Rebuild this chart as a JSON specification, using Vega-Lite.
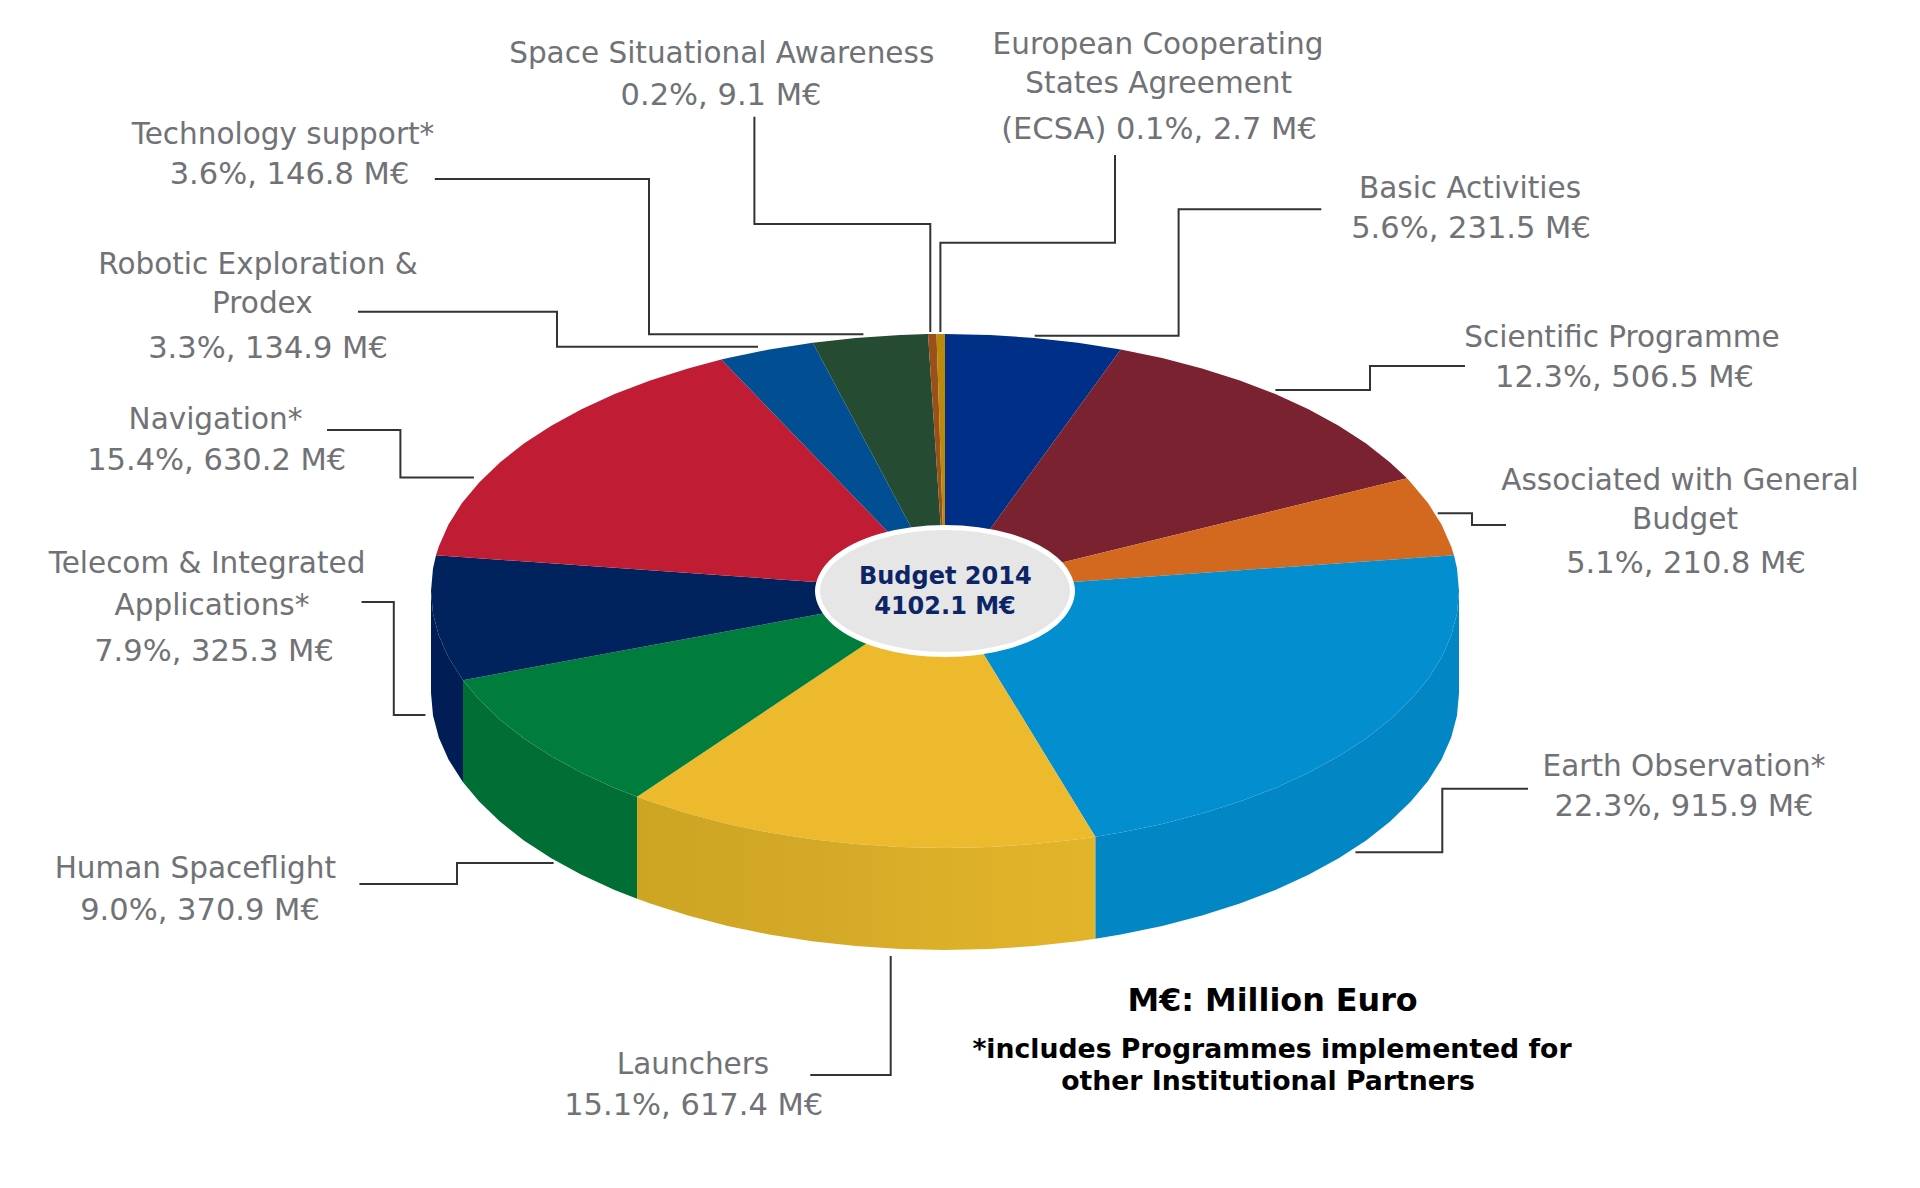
{
  "$schema": "https://vega.github.io/schema/vega-lite/v6.json",
  "description": "ESA Budget 2014 by domain",
  "background": "white",
  "padding": 0,
  "autosize": {"type": "fit", "contains": "padding"},
  "width": 1920,
  "height": 1188,
  "datasets": {
    "pie": [
      {"piece":"Earth Observation wall","i":1,"x":1459,"y":591},{"piece":"Earth Observation wall","i":2,"x":1457,"y":613.4},{"piece":"Earth Observation wall","i":3,"x":1451.2,"y":635.6},{"piece":"Earth Observation wall","i":4,"x":1441.5,"y":657.5},{"piece":"Earth Observation wall","i":5,"x":1428,"y":678.9},{"piece":"Earth Observation wall","i":6,"x":1410.8,"y":699.6},{"piece":"Earth Observation wall","i":7,"x":1390.1,"y":719.5},{"piece":"Earth Observation wall","i":8,"x":1366.1,"y":738.4},{"piece":"Earth Observation wall","i":9,"x":1338.7,"y":756.2},{"piece":"Earth Observation wall","i":10,"x":1308.5,"y":772.7},{"piece":"Earth Observation wall","i":11,"x":1275.4,"y":787.9},{"piece":"Earth Observation wall","i":12,"x":1239.8,"y":801.5},{"piece":"Earth Observation wall","i":13,"x":1202,"y":813.6},{"piece":"Earth Observation wall","i":14,"x":1162.2,"y":823.9},{"piece":"Earth Observation wall","i":15,"x":1120.8,"y":832.5},{"piece":"Earth Observation wall","i":16,"x":1095.3,"y":836.8},{"piece":"Earth Observation wall","i":17,"x":1095.3,"y":938.8},{"piece":"Earth Observation wall","i":18,"x":1120.8,"y":934.5},{"piece":"Earth Observation wall","i":19,"x":1162.2,"y":925.9},{"piece":"Earth Observation wall","i":20,"x":1202,"y":915.6},{"piece":"Earth Observation wall","i":21,"x":1239.8,"y":903.5},{"piece":"Earth Observation wall","i":22,"x":1275.4,"y":889.9},{"piece":"Earth Observation wall","i":23,"x":1308.5,"y":874.7},{"piece":"Earth Observation wall","i":24,"x":1338.7,"y":858.2},{"piece":"Earth Observation wall","i":25,"x":1366.1,"y":840.4},{"piece":"Earth Observation wall","i":26,"x":1390.1,"y":821.5},{"piece":"Earth Observation wall","i":27,"x":1410.8,"y":801.6},{"piece":"Earth Observation wall","i":28,"x":1428,"y":780.9},{"piece":"Earth Observation wall","i":29,"x":1441.5,"y":759.5},{"piece":"Earth Observation wall","i":30,"x":1451.2,"y":737.6},{"piece":"Earth Observation wall","i":31,"x":1457,"y":715.4},{"piece":"Earth Observation wall","i":32,"x":1459,"y":693},
      {"piece":"Launchers wall","i":1,"x":1095.3,"y":836.8},{"piece":"Launchers wall","i":2,"x":1078,"y":839.2},{"piece":"Launchers wall","i":3,"x":1034.3,"y":844.1},{"piece":"Launchers wall","i":4,"x":989.8,"y":847},{"piece":"Launchers wall","i":5,"x":945,"y":848},{"piece":"Launchers wall","i":6,"x":900.2,"y":847},{"piece":"Launchers wall","i":7,"x":855.7,"y":844.1},{"piece":"Launchers wall","i":8,"x":812,"y":839.2},{"piece":"Launchers wall","i":9,"x":769.2,"y":832.5},{"piece":"Launchers wall","i":10,"x":727.8,"y":823.9},{"piece":"Launchers wall","i":11,"x":688,"y":813.6},{"piece":"Launchers wall","i":12,"x":650.2,"y":801.5},{"piece":"Launchers wall","i":13,"x":637.1,"y":796.8},{"piece":"Launchers wall","i":14,"x":637.1,"y":898.8},{"piece":"Launchers wall","i":15,"x":650.2,"y":903.5},{"piece":"Launchers wall","i":16,"x":688,"y":915.6},{"piece":"Launchers wall","i":17,"x":727.8,"y":925.9},{"piece":"Launchers wall","i":18,"x":769.2,"y":934.5},{"piece":"Launchers wall","i":19,"x":812,"y":941.2},{"piece":"Launchers wall","i":20,"x":855.7,"y":946.1},{"piece":"Launchers wall","i":21,"x":900.2,"y":949},{"piece":"Launchers wall","i":22,"x":945,"y":950},{"piece":"Launchers wall","i":23,"x":989.8,"y":949},{"piece":"Launchers wall","i":24,"x":1034.3,"y":946.1},{"piece":"Launchers wall","i":25,"x":1078,"y":941.2},{"piece":"Launchers wall","i":26,"x":1095.3,"y":938.8},
      {"piece":"Human Spaceflight wall","i":1,"x":637.1,"y":796.8},{"piece":"Human Spaceflight wall","i":2,"x":614.6,"y":787.9},{"piece":"Human Spaceflight wall","i":3,"x":581.5,"y":772.7},{"piece":"Human Spaceflight wall","i":4,"x":551.3,"y":756.2},{"piece":"Human Spaceflight wall","i":5,"x":523.9,"y":738.4},{"piece":"Human Spaceflight wall","i":6,"x":499.9,"y":719.5},{"piece":"Human Spaceflight wall","i":7,"x":479.2,"y":699.6},{"piece":"Human Spaceflight wall","i":8,"x":463,"y":680.2},{"piece":"Human Spaceflight wall","i":9,"x":463,"y":782.2},{"piece":"Human Spaceflight wall","i":10,"x":479.2,"y":801.6},{"piece":"Human Spaceflight wall","i":11,"x":499.9,"y":821.5},{"piece":"Human Spaceflight wall","i":12,"x":523.9,"y":840.4},{"piece":"Human Spaceflight wall","i":13,"x":551.3,"y":858.2},{"piece":"Human Spaceflight wall","i":14,"x":581.5,"y":874.7},{"piece":"Human Spaceflight wall","i":15,"x":614.6,"y":889.9},{"piece":"Human Spaceflight wall","i":16,"x":637.1,"y":898.8},
      {"piece":"Telecom wall","i":1,"x":463,"y":680.2},{"piece":"Telecom wall","i":2,"x":448.5,"y":657.5},{"piece":"Telecom wall","i":3,"x":438.8,"y":635.6},{"piece":"Telecom wall","i":4,"x":433,"y":613.4},{"piece":"Telecom wall","i":5,"x":431,"y":591},{"piece":"Telecom wall","i":6,"x":431,"y":693},{"piece":"Telecom wall","i":7,"x":433,"y":715.4},{"piece":"Telecom wall","i":8,"x":438.8,"y":737.6},{"piece":"Telecom wall","i":9,"x":448.5,"y":759.5},{"piece":"Telecom wall","i":10,"x":463,"y":782.2},
      {"piece":"Basic Activities","i":0,"x":945,"y":591},{"piece":"Basic Activities","i":1,"x":945,"y":334},{"piece":"Basic Activities","i":2,"x":989.8,"y":335},{"piece":"Basic Activities","i":3,"x":1034.3,"y":337.9},{"piece":"Basic Activities","i":4,"x":1078,"y":342.8},{"piece":"Basic Activities","i":5,"x":1120.8,"y":349.5},
      {"piece":"Scientific Programme","i":0,"x":945,"y":591},{"piece":"Scientific Programme","i":1,"x":1120.8,"y":349.5},{"piece":"Scientific Programme","i":2,"x":1162.2,"y":358.1},{"piece":"Scientific Programme","i":3,"x":1202,"y":368.4},{"piece":"Scientific Programme","i":4,"x":1239.8,"y":380.5},{"piece":"Scientific Programme","i":5,"x":1275.4,"y":394.1},{"piece":"Scientific Programme","i":6,"x":1308.5,"y":409.3},{"piece":"Scientific Programme","i":7,"x":1338.7,"y":425.8},{"piece":"Scientific Programme","i":8,"x":1366.1,"y":443.6},{"piece":"Scientific Programme","i":9,"x":1390.1,"y":462.5},{"piece":"Scientific Programme","i":10,"x":1407,"y":478.3},
      {"piece":"Associated with General Budget","i":0,"x":945,"y":591},{"piece":"Associated with General Budget","i":1,"x":1407,"y":478.3},{"piece":"Associated with General Budget","i":2,"x":1410.8,"y":482.4},{"piece":"Associated with General Budget","i":3,"x":1428,"y":503.1},{"piece":"Associated with General Budget","i":4,"x":1441.5,"y":524.5},{"piece":"Associated with General Budget","i":5,"x":1451.2,"y":546.4},{"piece":"Associated with General Budget","i":6,"x":1454,"y":555.2},
      {"piece":"Earth Observation","i":0,"x":945,"y":591},{"piece":"Earth Observation","i":1,"x":1454,"y":555.2},{"piece":"Earth Observation","i":2,"x":1457,"y":568.6},{"piece":"Earth Observation","i":3,"x":1459,"y":591},{"piece":"Earth Observation","i":4,"x":1457,"y":613.4},{"piece":"Earth Observation","i":5,"x":1451.2,"y":635.6},{"piece":"Earth Observation","i":6,"x":1441.5,"y":657.5},{"piece":"Earth Observation","i":7,"x":1428,"y":678.9},{"piece":"Earth Observation","i":8,"x":1410.8,"y":699.6},{"piece":"Earth Observation","i":9,"x":1390.1,"y":719.5},{"piece":"Earth Observation","i":10,"x":1366.1,"y":738.4},{"piece":"Earth Observation","i":11,"x":1338.7,"y":756.2},{"piece":"Earth Observation","i":12,"x":1308.5,"y":772.7},{"piece":"Earth Observation","i":13,"x":1275.4,"y":787.9},{"piece":"Earth Observation","i":14,"x":1239.8,"y":801.5},{"piece":"Earth Observation","i":15,"x":1202,"y":813.6},{"piece":"Earth Observation","i":16,"x":1162.2,"y":823.9},{"piece":"Earth Observation","i":17,"x":1120.8,"y":832.5},{"piece":"Earth Observation","i":18,"x":1095.3,"y":836.8},
      {"piece":"Launchers","i":0,"x":945,"y":591},{"piece":"Launchers","i":1,"x":1095.3,"y":836.8},{"piece":"Launchers","i":2,"x":1078,"y":839.2},{"piece":"Launchers","i":3,"x":1034.3,"y":844.1},{"piece":"Launchers","i":4,"x":989.8,"y":847},{"piece":"Launchers","i":5,"x":945,"y":848},{"piece":"Launchers","i":6,"x":900.2,"y":847},{"piece":"Launchers","i":7,"x":855.7,"y":844.1},{"piece":"Launchers","i":8,"x":812,"y":839.2},{"piece":"Launchers","i":9,"x":769.2,"y":832.5},{"piece":"Launchers","i":10,"x":727.8,"y":823.9},{"piece":"Launchers","i":11,"x":688,"y":813.6},{"piece":"Launchers","i":12,"x":650.2,"y":801.5},{"piece":"Launchers","i":13,"x":637.1,"y":796.8},
      {"piece":"Human Spaceflight","i":0,"x":945,"y":591},{"piece":"Human Spaceflight","i":1,"x":637.1,"y":796.8},{"piece":"Human Spaceflight","i":2,"x":614.6,"y":787.9},{"piece":"Human Spaceflight","i":3,"x":581.5,"y":772.7},{"piece":"Human Spaceflight","i":4,"x":551.3,"y":756.2},{"piece":"Human Spaceflight","i":5,"x":523.9,"y":738.4},{"piece":"Human Spaceflight","i":6,"x":499.9,"y":719.5},{"piece":"Human Spaceflight","i":7,"x":479.2,"y":699.6},{"piece":"Human Spaceflight","i":8,"x":463,"y":680.2},
      {"piece":"Telecom & Integrated Applications","i":0,"x":945,"y":591},{"piece":"Telecom & Integrated Applications","i":1,"x":463,"y":680.2},{"piece":"Telecom & Integrated Applications","i":2,"x":448.5,"y":657.5},{"piece":"Telecom & Integrated Applications","i":3,"x":438.8,"y":635.6},{"piece":"Telecom & Integrated Applications","i":4,"x":433,"y":613.4},{"piece":"Telecom & Integrated Applications","i":5,"x":431,"y":591},{"piece":"Telecom & Integrated Applications","i":6,"x":433,"y":568.6},{"piece":"Telecom & Integrated Applications","i":7,"x":436,"y":555.2},
      {"piece":"Navigation","i":0,"x":945,"y":591},{"piece":"Navigation","i":1,"x":436,"y":555.2},{"piece":"Navigation","i":2,"x":438.8,"y":546.4},{"piece":"Navigation","i":3,"x":448.5,"y":524.5},{"piece":"Navigation","i":4,"x":462,"y":503.1},{"piece":"Navigation","i":5,"x":479.2,"y":482.4},{"piece":"Navigation","i":6,"x":499.9,"y":462.5},{"piece":"Navigation","i":7,"x":523.9,"y":443.6},{"piece":"Navigation","i":8,"x":551.3,"y":425.8},{"piece":"Navigation","i":9,"x":581.5,"y":409.3},{"piece":"Navigation","i":10,"x":614.6,"y":394.1},{"piece":"Navigation","i":11,"x":650.2,"y":380.5},{"piece":"Navigation","i":12,"x":688,"y":368.4},{"piece":"Navigation","i":13,"x":721.3,"y":359.6},
      {"piece":"Robotic Exploration & Prodex","i":0,"x":945,"y":591},{"piece":"Robotic Exploration & Prodex","i":1,"x":721.3,"y":359.6},{"piece":"Robotic Exploration & Prodex","i":2,"x":727.8,"y":358.1},{"piece":"Robotic Exploration & Prodex","i":3,"x":769.2,"y":349.5},{"piece":"Robotic Exploration & Prodex","i":4,"x":812.8,"y":342.7},
      {"piece":"Technology support","i":0,"x":945,"y":591},{"piece":"Technology support","i":1,"x":812.8,"y":342.7},{"piece":"Technology support","i":2,"x":855.7,"y":337.9},{"piece":"Technology support","i":3,"x":900.2,"y":335},{"piece":"Technology support","i":4,"x":928,"y":334.1},
      {"piece":"Space Situational Awareness","i":0,"x":945,"y":591},{"piece":"Space Situational Awareness","i":1,"x":928,"y":334.1},{"piece":"Space Situational Awareness","i":2,"x":936.5,"y":334},
      {"piece":"European Cooperating States Agreement","i":0,"x":945,"y":591},{"piece":"European Cooperating States Agreement","i":1,"x":936.5,"y":334},{"piece":"European Cooperating States Agreement","i":2,"x":945,"y":334}
    ],
    "hole": [
      {"i":1,"x":945,"y":527.5},{"i":2,"x":1008.75,"y":536},{"i":3,"x":1055.4,"y":559.25},{"i":4,"x":1072.5,"y":591},{"i":5,"x":1055.4,"y":622.75},{"i":6,"x":1008.75,"y":646},{"i":7,"x":945,"y":654.5},{"i":8,"x":881.25,"y":646},{"i":9,"x":834.6,"y":622.75},{"i":10,"x":817.5,"y":591},{"i":11,"x":834.6,"y":559.25},{"i":12,"x":881.25,"y":536}
    ],
    "leaders": [
      {"id":"Technology support","i":1,"x":434.8,"y":179},{"id":"Technology support","i":2,"x":649,"y":179},{"id":"Technology support","i":3,"x":649,"y":334.3},{"id":"Technology support","i":4,"x":863.4,"y":334.3},
      {"id":"Robotic","i":1,"x":358,"y":311.7},{"id":"Robotic","i":2,"x":557,"y":311.7},{"id":"Robotic","i":3,"x":557,"y":346.7},{"id":"Robotic","i":4,"x":758,"y":346.7},
      {"id":"SSA","i":1,"x":754.4,"y":116.7},{"id":"SSA","i":2,"x":754.4,"y":224},{"id":"SSA","i":3,"x":930.3,"y":224},{"id":"SSA","i":4,"x":930.3,"y":332},
      {"id":"ECSA","i":1,"x":1115,"y":155},{"id":"ECSA","i":2,"x":1115,"y":242.7},{"id":"ECSA","i":3,"x":940.4,"y":242.7},{"id":"ECSA","i":4,"x":940.4,"y":332},
      {"id":"Basic","i":1,"x":1321.3,"y":209.3},{"id":"Basic","i":2,"x":1178.6,"y":209.3},{"id":"Basic","i":3,"x":1178.6,"y":335.7},{"id":"Basic","i":4,"x":1034.7,"y":335.7},
      {"id":"Scientific","i":1,"x":1465,"y":366},{"id":"Scientific","i":2,"x":1370,"y":366},{"id":"Scientific","i":3,"x":1370,"y":390},{"id":"Scientific","i":4,"x":1275.4,"y":390},
      {"id":"Associated","i":1,"x":1437.7,"y":513.3},{"id":"Associated","i":2,"x":1472,"y":513.3},{"id":"Associated","i":3,"x":1472,"y":525},{"id":"Associated","i":4,"x":1506,"y":525},
      {"id":"Earth","i":1,"x":1528,"y":788.7},{"id":"Earth","i":2,"x":1442.3,"y":788.7},{"id":"Earth","i":3,"x":1442.3,"y":852.3},{"id":"Earth","i":4,"x":1355.4,"y":852.3},
      {"id":"Launchers","i":1,"x":890.7,"y":956},{"id":"Launchers","i":2,"x":890.7,"y":1075},{"id":"Launchers","i":3,"x":810.3,"y":1075},
      {"id":"Human","i":1,"x":359.4,"y":884},{"id":"Human","i":2,"x":457,"y":884},{"id":"Human","i":3,"x":457,"y":863},{"id":"Human","i":4,"x":553.6,"y":863},
      {"id":"Telecom","i":1,"x":361.6,"y":602},{"id":"Telecom","i":2,"x":393.8,"y":602},{"id":"Telecom","i":3,"x":393.8,"y":715},{"id":"Telecom","i":4,"x":425.4,"y":715},
      {"id":"Navigation","i":1,"x":327,"y":430},{"id":"Navigation","i":2,"x":400.4,"y":430},{"id":"Navigation","i":3,"x":400.4,"y":477.6},{"id":"Navigation","i":4,"x":473.9,"y":477.6}
    ],
    "names": [
      {"text":"Space Situational Awareness","x":721.7,"y":63.3},
      {"text":"Technology support*","x":283,"y":144.3},
      {"text":"Robotic Exploration &","x":258,"y":274},{"text":"Prodex","x":262.4,"y":313.3},
      {"text":"European Cooperating","x":1158,"y":54},{"text":"States Agreement","x":1158.7,"y":93.3},
      {"text":"Basic Activities","x":1470,"y":198.3},
      {"text":"Scientific Programme","x":1622,"y":346.7},
      {"text":"Associated with General","x":1680,"y":490},{"text":"Budget","x":1685,"y":529},
      {"text":"Earth Observation*","x":1684,"y":776},
      {"text":"Telecom & Integrated","x":207,"y":573},{"text":"Applications*","x":212,"y":615},
      {"text":"Human Spaceflight","x":195.4,"y":877.5},
      {"text":"Launchers","x":693,"y":1074},
      {"text":"Navigation*","x":215.5,"y":428.6}
    ],
    "amounts": [
      {"text":"0.2%, 9.1 M€","x":721,"y":105},
      {"text":"3.6%, 146.8 M€","x":289.5,"y":184.3},
      {"text":"3.3%, 134.9 M€","x":268,"y":358.3},
      {"text":"(ECSA) 0.1%, 2.7 M€","x":1159,"y":139.3},
      {"text":"5.6%, 231.5 M€","x":1471,"y":238.3},
      {"text":"12.3%, 506.5 M€","x":1624.5,"y":386.7},
      {"text":"5.1%, 210.8 M€","x":1686,"y":573},
      {"text":"22.3%, 915.9 M€","x":1684,"y":815.5},
      {"text":"7.9%, 325.3 M€","x":214,"y":661},
      {"text":"9.0%, 370.9 M€","x":200,"y":919.5},
      {"text":"15.1%, 617.4 M€","x":693.7,"y":1114.5},
      {"text":"15.4%, 630.2 M€","x":216.7,"y":470}
    ],
    "center": [
      {"text":"Budget 2014","x":945.3,"y":584},{"text":"4102.1 M€","x":945,"y":614}
    ],
    "notes": [
      {"text":"*includes Programmes implemented for","x":1272,"y":1058},{"text":"other Institutional Partners","x":1268,"y":1090}
    ],
    "heading": [
      {"text":"M€: Million Euro","x":1272.6,"y":1010.7}
    ]
  },
  "encoding": {
    "x": {"field": "x", "type": "quantitative", "axis": null, "scale": {"domain": [0, 1920], "nice": false, "zero": false}},
    "y": {"field": "y", "type": "quantitative", "axis": null, "scale": {"domain": [1188, 0], "nice": false, "zero": false}}
  },
  "layer": [
    {
      "data": {"name": "pie"},
      "transform": [{"filter": "datum.piece !== 'Launchers wall'"}],
      "mark": {"type": "line", "filled": true, "interpolate": "linear-closed"},
      "encoding": {
        "order": {"field": "i", "type": "quantitative"},
        "color": {
          "field": "piece",
          "type": "nominal",
          "legend": null,
          "sort": null,
          "scale": {
            "domain": ["Earth Observation wall", "Human Spaceflight wall", "Telecom wall", "Basic Activities", "Scientific Programme", "Associated with General Budget", "Earth Observation", "Launchers", "Human Spaceflight", "Telecom & Integrated Applications", "Navigation", "Robotic Exploration & Prodex", "Technology support", "Space Situational Awareness", "European Cooperating States Agreement"],
            "range": ["#0287c4", "#016e36", "#001e55", "#002f87", "#7a2230", "#d2691e", "#028ecf", "#edb92d", "#007d3d", "#00235e", "#c01d35", "#024e92", "#254b33", "#99501a", "#bb8a0a"]
          }
        }
      }
    },
    {
      "data": {"name": "pie"},
      "transform": [{"filter": "datum.piece === 'Launchers wall'"}],
      "mark": {
        "type": "line",
        "filled": true,
        "interpolate": "linear-closed",
        "fill": {
          "gradient": "linear", "x1": 1, "y1": 0, "x2": 0, "y2": 0,
          "stops": [
            {"offset": 0, "color": "#e2b42a"},
            {"offset": 0.35, "color": "#dcaf29"},
            {"offset": 0.6, "color": "#d3a927"},
            {"offset": 1, "color": "#cea523"}
          ]
        }
      },
      "encoding": {"order": {"field": "i", "type": "quantitative"}}
    },
    {
      "data": {"name": "hole"},
      "mark": {"type": "line", "filled": true, "interpolate": "cardinal-closed", "fill": "#e6e6e6", "stroke": "white", "strokeWidth": 5},
      "encoding": {"order": {"field": "i", "type": "quantitative"}}
    },
    {
      "data": {"name": "leaders"},
      "mark": {"type": "line", "stroke": "#333333", "strokeWidth": 2},
      "encoding": {
        "detail": {"field": "id", "type": "nominal"},
        "order": {"field": "i", "type": "quantitative"}
      }
    },
    {
      "data": {"name": "names"},
      "mark": {"type": "text", "font": "DejaVu Sans", "fontSize": 29.5, "color": "#707276", "align": "center", "baseline": "alphabetic"},
      "encoding": {"text": {"field": "text", "type": "nominal"}}
    },
    {
      "data": {"name": "amounts"},
      "mark": {"type": "text", "font": "DejaVu Sans", "fontSize": 30.5, "color": "#707276", "align": "center", "baseline": "alphabetic"},
      "encoding": {"text": {"field": "text", "type": "nominal"}}
    },
    {
      "data": {"name": "center"},
      "mark": {"type": "text", "font": "DejaVu Sans", "fontWeight": "bold", "fontSize": 24, "color": "#0b2567", "align": "center", "baseline": "alphabetic"},
      "encoding": {"text": {"field": "text", "type": "nominal"}}
    },
    {
      "data": {"name": "notes"},
      "mark": {"type": "text", "font": "DejaVu Sans", "fontWeight": "bold", "fontSize": 26.7, "color": "black", "align": "center", "baseline": "alphabetic"},
      "encoding": {"text": {"field": "text", "type": "nominal"}}
    },
    {
      "data": {"name": "heading"},
      "mark": {"type": "text", "font": "DejaVu Sans", "fontWeight": "bold", "fontSize": 31.8, "color": "black", "align": "center", "baseline": "alphabetic"},
      "encoding": {"text": {"field": "text", "type": "nominal"}}
    }
  ],
  "config": {"view": {"stroke": null}}
}
